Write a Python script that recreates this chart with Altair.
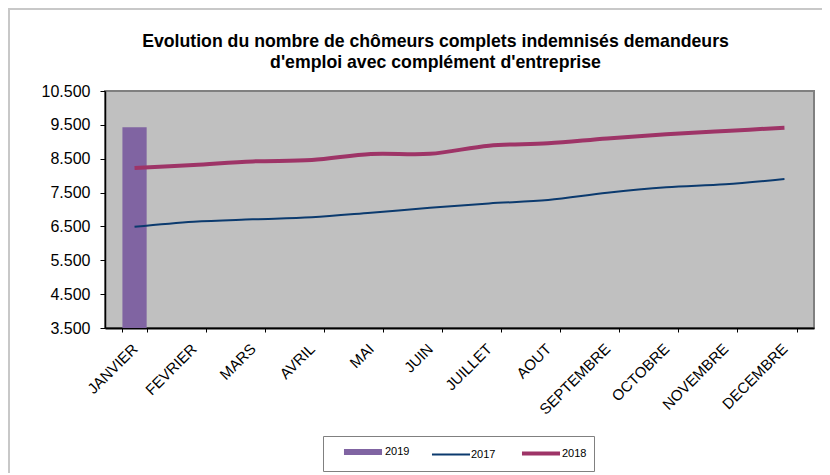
import altair as alt
import pandas as pd

months = ["JANVIER", "FEVRIER", "MARS", "AVRIL", "MAI", "JUIN", "JUILLET",
          "AOUT", "SEPTEMBRE", "OCTOBRE", "NOVEMBRE", "DECEMBRE"]
values_2017 = [6490, 6640, 6710, 6770, 6905, 7050, 7180, 7280, 7495, 7655, 7745, 7900]
values_2018 = [8225, 8315, 8420, 8460, 8640, 8645, 8885, 8955, 9100, 9220, 9320, 9415]
values_2019 = [9430]
series_names = ["2019", "2017", "2018"]
series_colors = ["#8064A2", "#0B3A6E", "#9E3467"]
series_widths = [6, 2, 4]
y_ticks = [3500, 4500, 5500, 6500, 7500, 8500, 9500, 10500]

rows = []
for m, v in zip(months, values_2019):
    rows.append({"mois": m, "serie": "2019", "valeur": v})
for m, v in zip(months, values_2017):
    rows.append({"mois": m, "serie": "2017", "valeur": v})
for m, v in zip(months, values_2018):
    rows.append({"mois": m, "serie": "2018", "valeur": v})
df = pd.DataFrame(rows)

W, H = 709, 237
PL, PT = 97, 83
FONT = "Liberation Sans"

x_enc = alt.X(
    "mois:N", sort=months, title=None,
    scale=alt.Scale(domain=months, paddingInner=0.59, paddingOuter=0.295),
    axis=alt.Axis(labelAngle=-45, labelAlign="right", labelBaseline="middle",
                  labelFontSize=15, labelPadding=14, tickBand="extent", tickSize=4,
                  domainColor="black", tickColor="black", labelColor="black",
                  domainWidth=2, labelFont=FONT),
)
y_enc = alt.Y(
    "valeur:Q", title=None,
    scale=alt.Scale(domain=[3500, 10500], nice=False, zero=False),
    axis=alt.Axis(values=y_ticks, tickSize=5, labelPadding=10, labelFontSize=16,
                  labelExpr="replace(format(datum.value, ',.0f'), ',', '.')",
                  domainColor="black", tickColor="black", labelColor="black",
                  domainWidth=1.5, grid=False, labelFont=FONT),
)
legend_cfg = dict(title=" ", titleOrient="left", titleFontSize=1, titlePadding=24,
                  orient="none", direction="horizontal",
                  legendX=218, legendY=345, symbolType="M-3.17,0H3.17", symbolSize=144,
                  labelFontSize=11, labelFont=FONT, labelOffset=13,
                  columnPadding=17, padding=7, strokeColor="#808080",
                  fillColor="white", labelColor="black")
color_enc = alt.Color(
    "serie:N", scale=alt.Scale(domain=series_names, range=series_colors),
    legend=alt.Legend(**legend_cfg),
)
sw_enc = alt.StrokeWidth(
    "serie:N", scale=alt.Scale(type="ordinal", domain=series_names, range=series_widths),
    legend=alt.Legend(**legend_cfg),
)

bars = alt.Chart(df).transform_filter(alt.datum.serie == "2019").mark_bar(clip=True).encode(
    x=x_enc, y=y_enc, color=color_enc
)
lines = alt.Chart(df).transform_filter(alt.datum.serie != "2019").mark_line(
    interpolate="cardinal").encode(
    x=x_enc, y=y_enc, color=color_enc, strokeWidth=sw_enc, detail="serie:N"
)
frame = alt.Chart(alt.Data(values=[{"f": 1}])).mark_rect(
    fill="transparent", stroke="#C8C8C8", strokeWidth=2).encode(
    x=alt.value(-PL + 1), y=alt.value(-PT + 1), x2=alt.value(W + 200), y2=alt.value(H + 300)
)

chart = alt.layer(frame, bars, lines).properties(
    width=W, height=H,
    autosize=alt.AutoSizeParams(type="none"),
    padding={"left": PL, "top": PT, "right": 8, "bottom": 145},
    background="white",
    title=alt.TitleParams(
        text=["Evolution du nombre de chômeurs complets indemnisés demandeurs",
              "d'emploi avec complément d'entreprise"],
        fontSize=17.7, font=FONT, fontWeight="bold", color="black",
        anchor="middle", dx=-24, offset=-64, lineHeight=21),
).configure_view(
    fill="#C0C0C0", stroke="#808080", strokeWidth=2
)

chart.save("out.html", embed_options={"renderer": "svg", "actions": False})
